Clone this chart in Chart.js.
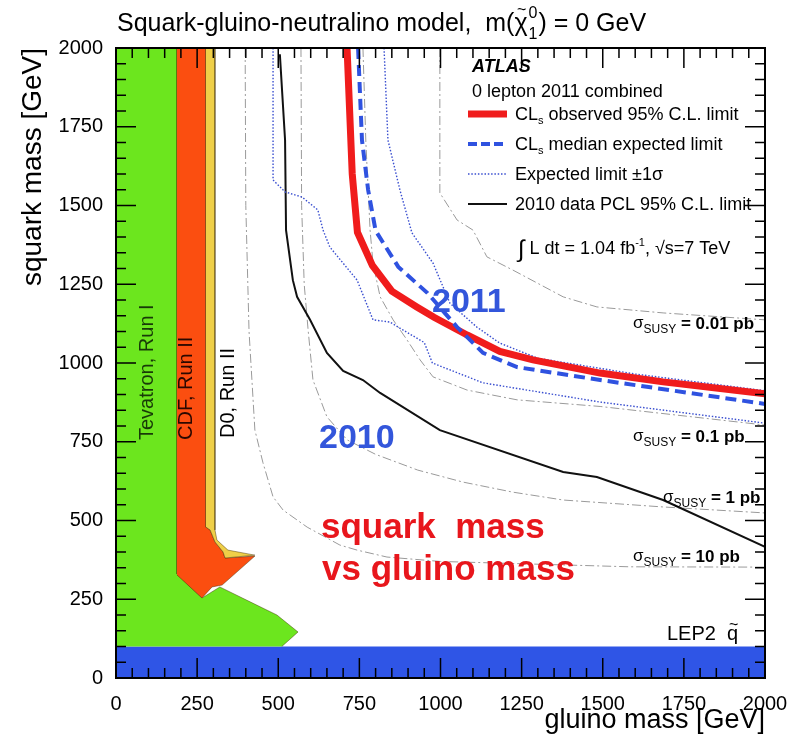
<!DOCTYPE html>
<html>
<head>
<meta charset="utf-8">
<script src="https://cdn.jsdelivr.net/npm/chart.js@4/dist/chart.umd.min.js"></script>
<style>
html, body { margin: 0; padding: 0; background: #fff; }
#wrap { width: 809px; height: 740px; }
</style>
</head>
<body>
<div id="wrap"><canvas id="limitChart" width="809" height="740"></canvas></div>
<script>
const FONT = '"Liberation Sans", Arial, Helvetica, sans-serif';

// axis ticks (GeV)
const massTicks = [0, 250, 500, 750, 1000, 1250, 1500, 1750, 2000];

// 2011 limits, [gluino, squark] in GeV
const observed2011 = [[712, 2000], [728, 1600], [744, 1415], [790, 1310], [850, 1228], [927, 1178], [980, 1145],
  [1082, 1089], [1183, 1037], [1285, 1010], [1492, 968], [1686, 940], [2000, 902]];
const expected2011 = [[746, 2000], [758, 1708], [777, 1549], [800, 1420], [870, 1305], [960, 1222], [1051, 1114],
  [1131, 1032], [1236, 987], [1492, 946], [2000, 870]];
const expectedUp = [[826, 2000], [838, 1708], [875, 1549], [912, 1413], [977, 1317], [1029, 1190], [1112, 1114],
  [1183, 1063], [1300, 1015], [1600, 965], [2000, 912]];
const expectedDown = [[484, 2000], [484, 1581], [521, 1543], [573, 1527], [622, 1486], [638, 1422], [659, 1368],
  [743, 1263], [792, 1137], [844, 1130], [884, 1105], [950, 1065], [975, 1000], [1131, 937], [1492, 876], [2000, 809]];

// 2010 PCL limit
const pcl2010 = [[505, 1980], [521, 1708], [524, 1422], [545, 1263], [558, 1210], [598, 1137], [650, 1032], [700, 975],
  [761, 946], [814, 905], [998, 787], [1378, 654], [1482, 638], [1686, 565], [2000, 416]];

// cross-section contours
const xsec001 = [[998, 2000], [998, 1540], [1051, 1454], [1100, 1422], [1143, 1337], [1223, 1295], [1378, 1210],
  [1482, 1178], [1686, 1159], [2000, 1137]];
const xsec01 = [[761, 2000], [770, 1700], [783, 1422], [792, 1317], [814, 1210], [854, 1137], [897, 1073], [937, 1010],
  [977, 956], [1082, 914], [1236, 883], [1492, 862], [2000, 803]];
const xsec1 = [[570, 2000], [572, 1500], [580, 1250], [592, 1105], [607, 946], [650, 829], [712, 756], [800, 710],
  [930, 660], [1069, 622], [1223, 590], [1378, 565], [1686, 543], [2000, 524]];
const xsec10 = [[398, 2000], [400, 1500], [410, 1100], [428, 787], [453, 683], [484, 575], [515, 533], [589, 479],
  [690, 422], [743, 406], [835, 384], [1000, 370], [1584, 353], [2000, 352]];

// earlier exclusions
const tevatronRun1 = [[0, 100], [0, 2000], [188, 2000], [188, 330], [265, 254], [320, 289], [496, 200], [561, 146], [511, 100]];
const cdfRun2 = [[188, 2000], [277, 2000], [277, 479], [290, 470], [305, 432], [330, 400], [336, 381], [428, 387],
  [327, 295], [296, 289], [265, 254], [188, 327]];
const d0Run2 = [[277, 2000], [305, 2000], [305, 470], [311, 438], [345, 406], [428, 390], [336, 381], [330, 400],
  [305, 432], [290, 470], [277, 479]];
const lep2 = [[0, 0], [2000, 0], [2000, 100], [0, 100]];

const pts = arr => arr.map(([x, y]) => ({ x, y }));

function curve(data, color, width, dash) {
  return { data: pts(data), showLine: true, pointRadius: 0, borderColor: color, borderWidth: width,
    borderDash: dash || [], fill: false, tension: 0, clip: 0 };
}
function area(data, color) {
  return { data: pts(data), showLine: true, pointRadius: 0, borderColor: 'rgba(60,40,0,0.55)', borderWidth: 0.8,
    backgroundColor: color, fill: 'shape', tension: 0, clip: 0 };
}

const grayDash = [9, 3, 2, 3];

// first entries end up on top
const datasets = [
  curve(expected2011, '#2f52e0', 4, [11, 6]),
  curve(observed2011, '#f01c1c', 7),
  curve(expectedUp, '#3a4fd0', 1.4, [1.5, 1.8]),
  curve(expectedDown, '#3a4fd0', 1.4, [1.5, 1.8]),
  curve(pcl2010, '#111', 2),
  curve(xsec001, '#9a9a9a', 1, grayDash),
  curve(xsec01, '#9a9a9a', 1, grayDash),
  curve(xsec1, '#9a9a9a', 1, grayDash),
  curve(xsec10, '#9a9a9a', 1, grayDash),
  area(d0Run2, '#efcf48'),
  area(cdfRun2, '#fb4e10'),
  area(tevatronRun1, '#6ce61e'),
  Object.assign(area(lep2, '#2f55e6'), { borderWidth: 0 })
];

function rich(ctx, x, y, parts) {
  let cx = x;
  for (const p of parts) {
    ctx.font = (p.italic ? 'italic ' : '') + (p.bold ? 'bold ' : '') + p.size + 'px ' + FONT;
    ctx.fillText(p.t, cx, y + (p.dy || 0));
    cx += ctx.measureText(p.t).width;
  }
  return cx;
}

function sigmaLabel(ctx, x, y, value) {
  rich(ctx, x, y, [
    { t: 'σ', size: 17, dy: -1 },
    { t: 'SUSY', size: 12, dy: 4 },
    { t: ' = ' + value + ' pb', size: 17, bold: true }
  ]);
}

const decorations = {
  id: 'decorations',
  afterDatasetsDraw(chart) {
    const { ctx, chartArea: a, scales: { x, y } } = chart;
    ctx.save();
    ctx.strokeStyle = '#000';
    ctx.lineWidth = 1.5;
    ctx.beginPath();
    // inward ticks on all four sides, major every 250, minor every 50
    for (let v = 0; v <= 2000; v += 50) {
      const len = v % 250 === 0 ? 20 : 10;
      const px = x.getPixelForValue(v);
      const py = y.getPixelForValue(v);
      ctx.moveTo(px, a.bottom); ctx.lineTo(px, a.bottom - len);
      ctx.moveTo(px, a.top); ctx.lineTo(px, a.top + len);
      ctx.moveTo(a.left, py); ctx.lineTo(a.left + len, py);
      ctx.moveTo(a.right, py); ctx.lineTo(a.right - len, py);
    }
    ctx.stroke();
    ctx.lineWidth = 2;
    ctx.strokeRect(a.left, a.top, a.right - a.left, a.bottom - a.top);

    // legend
    ctx.fillStyle = '#000';
    ctx.textBaseline = 'alphabetic';
    ctx.textAlign = 'left';
    rich(ctx, 472, 72, [{ t: 'ATLAS', size: 18, bold: true, italic: true }]);
    rich(ctx, 472, 97, [{ t: '0 lepton 2011 combined', size: 18 }]);
    const rows = [
      { y: 114, color: '#f01c1c', w: 7, dash: [], parts: [{ t: 'CL', size: 18 }, { t: 's', size: 11, dy: 4 }, { t: ' observed 95% C.L. limit', size: 18 }] },
      { y: 144, color: '#2f52e0', w: 4, dash: [9, 4], parts: [{ t: 'CL', size: 18 }, { t: 's', size: 11, dy: 4 }, { t: ' median expected limit', size: 18 }] },
      { y: 174, color: '#3a4fd0', w: 1.4, dash: [1.5, 1.8], parts: [{ t: 'Expected limit ±1σ', size: 18 }] },
      { y: 204, color: '#111', w: 2, dash: [], parts: [{ t: '2010 data PCL 95% C.L. limit', size: 18 }] }
    ];
    for (const r of rows) {
      ctx.save();
      ctx.strokeStyle = r.color;
      ctx.lineWidth = r.w;
      ctx.setLineDash(r.dash);
      ctx.beginPath();
      ctx.moveTo(468, r.y); ctx.lineTo(507, r.y);
      ctx.stroke();
      ctx.restore();
      rich(ctx, 515, r.y + 6, r.parts);
    }
    rich(ctx, 518, 254, [
      { t: '∫', size: 24, dy: 3 },
      { t: ' L dt = 1.04 fb', size: 18 },
      { t: '-1', size: 11, dy: -8 },
      { t: ', √s=7 TeV', size: 18 }
    ]);

    // cross-section labels
    sigmaLabel(ctx, 633, 329, '0.01');
    sigmaLabel(ctx, 633, 442, '0.1');
    sigmaLabel(ctx, 663, 503, '1');
    sigmaLabel(ctx, 633, 562, '10');

    // LEP2 squark limit
    const qx = rich(ctx, 667, 640, [{ t: 'LEP2  ', size: 20 }]);
    rich(ctx, qx, 640, [{ t: 'q', size: 20 }]);
    rich(ctx, qx + 2, 630, [{ t: '~', size: 16 }]);

    // experiment labels along the left bands
    ctx.textBaseline = 'middle';
    const vertical = (t, px, py, color) => {
      ctx.save();
      ctx.translate(px, py);
      ctx.rotate(-Math.PI / 2);
      ctx.fillStyle = color;
      ctx.font = '20px ' + FONT;
      ctx.fillText(t, 0, 0);
      ctx.restore();
    };
    vertical('Tevatron, Run I', 147, 440, '#183a08');
    vertical('CDF, Run II', 186, 440, '#2a0800');
    vertical('D0, Run II', 228, 438, '#000');

    // big annotations
    ctx.textBaseline = 'alphabetic';
    ctx.fillStyle = '#3356db';
    ctx.font = 'bold 34px ' + FONT;
    ctx.fillText('2011', 432, 312);
    ctx.fillText('2010', 319, 448);
    ctx.fillStyle = '#e8161c';
    ctx.font = 'bold 35px ' + FONT;
    ctx.fillText('squark  mass', 321, 538);
    ctx.fillText('vs gluino mass', 322, 580);

    // title
    ctx.fillStyle = '#000';
    let tx = rich(ctx, 117, 31, [{ t: 'Squark-gluino-neutralino model,  m(', size: 25 }]);
    ctx.font = '25px ' + FONT;
    const chiW = ctx.measureText('χ').width;
    ctx.fillText('χ', tx, 31);
    ctx.font = '16px ' + FONT;
    ctx.fillText('~', tx + chiW / 2 - 4, 15);
    tx += chiW + 1;
    ctx.fillText('0', tx, 18);
    ctx.fillText('1', tx, 39);
    tx += ctx.measureText('0').width + 1;
    rich(ctx, tx, 31, [{ t: ') = 0 GeV', size: 25 }]);
    ctx.restore();
  }
};

Chart.defaults.font.family = FONT;
Chart.defaults.color = '#000';

new Chart(document.getElementById('limitChart'), {
  type: 'scatter',
  data: { datasets: datasets },
  options: {
    responsive: false,
    animation: false,
    events: [],
    layout: { padding: { top: 48, right: 44, left: 0, bottom: 0 } },
    plugins: { legend: { display: false }, tooltip: { enabled: false }, title: { display: false } },
    scales: {
      x: {
        type: 'linear', min: 0, max: 2000,
        afterBuildTicks: s => { s.ticks = massTicks.map(v => ({ value: v })); },
        ticks: { padding: 14, font: { size: 20 }, color: '#000', callback: v => String(v) },
        grid: { display: false, drawTicks: false },
        border: { display: false },
        title: { display: true, text: 'gluino mass [GeV]', align: 'end', font: { size: 27 }, color: '#000', padding: { top: 2, bottom: 3 } },
        afterFit: s => { s.height = 62; }
      },
      y: {
        type: 'linear', min: 0, max: 2000,
        afterBuildTicks: s => { s.ticks = massTicks.map(v => ({ value: v })); },
        ticks: { padding: 13, font: { size: 20 }, color: '#000', callback: v => String(v) },
        grid: { display: false, drawTicks: false },
        border: { display: false },
        title: { display: true, text: 'squark mass [GeV]', align: 'end', font: { size: 28 }, color: '#000', padding: { top: 16, bottom: 0 } },
        afterFit: s => { s.width = 116; }
      }
    }
  },
  plugins: [decorations]
});
</script>
</body>
</html>
